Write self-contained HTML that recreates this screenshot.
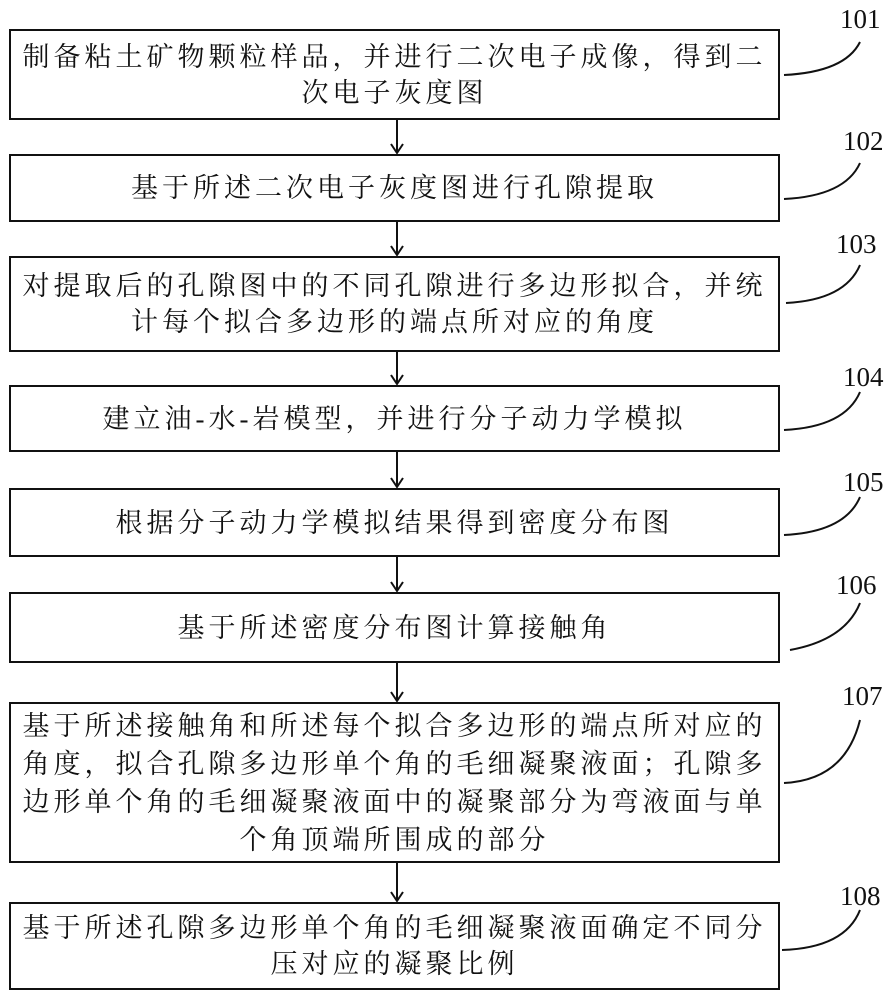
<!DOCTYPE html>
<html><head><meta charset="utf-8"><style>
body{margin:0;background:#fff;width:895px;height:1000px;position:relative;overflow:hidden;font-family:"Liberation Serif","Noto Serif CJK SC","Noto Sans CJK SC",serif;}
.b{position:absolute;left:9px;width:771px;border:2px solid #111;display:flex;align-items:center;justify-content:center;text-align:center;font-size:27px;letter-spacing:4px;line-height:36px;color:#111;box-sizing:border-box;padding:0;white-space:nowrap;}
.l{position:absolute;font-size:27px;color:#111;font-family:"Liberation Serif",serif;}
</style></head><body>
<div class="b" style="top:29px;height:91px">制备粘土矿物颗粒样品，并进行二次电子成像，得到二<br>次电子灰度图</div>
<div class="b" style="top:154px;height:68px">基于所述二次电子灰度图进行孔隙提取</div>
<div class="b" style="top:256px;height:96px">对提取后的孔隙图中的不同孔隙进行多边形拟合，并统<br>计每个拟合多边形的端点所对应的角度</div>
<div class="b" style="top:385px;height:67px">建立油-水-岩模型，并进行分子动力学模拟</div>
<div class="b" style="top:488px;height:69px">根据分子动力学模拟结果得到密度分布图</div>
<div class="b" style="top:592px;height:71px">基于所述密度分布图计算接触角</div>
<div class="b" style="top:702px;height:161px;line-height:38px">基于所述接触角和所述每个拟合多边形的端点所对应的<br>角度，拟合孔隙多边形单个角的毛细凝聚液面；孔隙多<br>边形单个角的毛细凝聚液面中的凝聚部分为弯液面与单<br>个角顶端所围成的部分</div>
<div class="b" style="top:902px;height:88px">基于所述孔隙多边形单个角的毛细凝聚液面确定不同分<br>压对应的凝聚比例</div>
<div class="l" style="left:840px;top:4px">101</div>
<div class="l" style="left:843px;top:126px">102</div>
<div class="l" style="left:836px;top:229px">103</div>
<div class="l" style="left:843px;top:362px">104</div>
<div class="l" style="left:843px;top:467px">105</div>
<div class="l" style="left:836px;top:570px">106</div>
<div class="l" style="left:842px;top:681px">107</div>
<div class="l" style="left:840px;top:881px">108</div>
<svg width="895" height="1000" style="position:absolute;left:0;top:0" fill="none" stroke="#111" stroke-width="2">
<g>
<path d="M784 75 Q845 72 860 42"/>
<path d="M784 199 Q845 196 860 163"/>
<path d="M786 303 Q845 300 860 265"/>
<path d="M784 430 Q845 427 860 392"/>
<path d="M784 535 Q845 532 860 497"/>
<path d="M790 650 Q845 640 860 603"/>
<path d="M784 783 Q845 780 860 720"/>
<path d="M782 950 Q845 948 860 910"/>
</g>
<g>
<line x1="397" y1="120" x2="397" y2="153"/><path d="M391 144 L397 153 L403 144"/>
<line x1="397" y1="222" x2="397" y2="255"/><path d="M391 246 L397 255 L403 246"/>
<line x1="397" y1="352" x2="397" y2="384"/><path d="M391 375 L397 384 L403 375"/>
<line x1="397" y1="452" x2="397" y2="487"/><path d="M391 478 L397 487 L403 478"/>
<line x1="397" y1="557" x2="397" y2="591"/><path d="M391 582 L397 591 L403 582"/>
<line x1="397" y1="663" x2="397" y2="701"/><path d="M391 692 L397 701 L403 692"/>
<line x1="397" y1="863" x2="397" y2="901"/><path d="M391 892 L397 901 L403 892"/>
</g>
</svg>
</body></html>
